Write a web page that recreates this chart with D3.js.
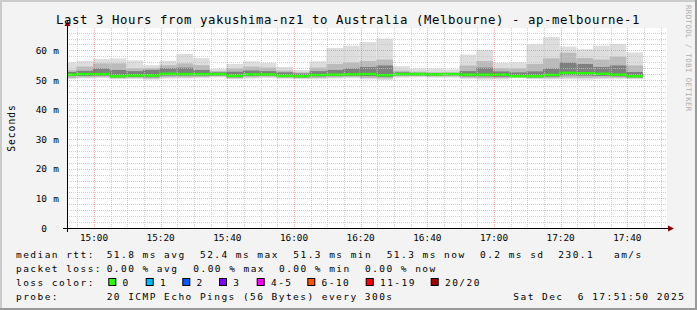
<!DOCTYPE html>
<html lang="en">
<head>
<meta charset="UTF-8"/>
<title>SmokePing - ap-melbourne-1</title>
<script src="https://d3js.org/d3.v7.min.js"></script>
<style>
  body { margin: 0; background: #f3f3f3; }
  svg text { font-family: "DejaVu Sans Mono", monospace; fill: #000; white-space: pre; }
</style>
</head>
<body>
<script>
// 5 minute bins, first one starts 14:50
var binCount = 35;
// smoke bands (ms)
var lo  = [50.3, 50.6, 50.7, 50.3, 50.4, 50.1, 50.5, 50.5, 50.6, 50.9, 50.3, 50.5, 50.7, 50.4, 50.3, 50.3, 50.5, 50.6, 50.2, 50.0, 50.8, 50.9, 50.8, 50.8, 50.4, 50.1, 50.2, 50.6, 50.3, 50.2, 50.2, 50.1, 50.3, 50.4, 50.3];
var q1  = [50.7, 50.9, 51.0, 50.6, 50.7, 50.5, 50.9, 50.9, 51.0, 51.2, 50.6, 50.9, 51.1, 50.7, 50.6, 50.7, 50.9, 51.0, 50.7, 50.5, 51.2, 51.3, 51.2, 51.2, 50.8, 50.6, 50.6, 50.9, 50.6, 50.6, 50.8, 50.7, 50.8, 50.8, 50.6];
var c1  = [51.3, 51.4, 51.5, 50.9, 51.0, 50.9, 51.5, 51.5, 51.5, 51.6, 50.9, 51.4, 51.5, 51.0, 50.9, 51.2, 51.3, 51.4, 51.3, 51.0, 51.6, 51.6, 51.5, 51.6, 51.2, 51.2, 51.1, 51.0, 50.9, 51.1, 51.6, 51.5, 51.4, 51.2, 50.9];
var med = [51.8, 52.0, 52.0, 51.3, 51.5, 51.5, 52.1, 52.0, 52.0, 52.0, 51.4, 51.9, 51.9, 51.4, 51.3, 51.7, 51.8, 51.9, 52.0, 51.6, 52.0, 52.0, 51.9, 52.0, 51.8, 51.8, 51.8, 51.3, 51.3, 51.7, 52.4, 52.3, 52.1, 51.8, 51.3];
var c2  = [52.7, 53.1, 53.9, 53.4, 53.0, 53.4, 54.0, 54.2, 53.4, 52.6, 52.8, 53.2, 53.0, 52.6, 52.2, 53.0, 53.4, 53.9, 54.4, 54.9, 52.6, 52.4, 52.3, 52.3, 53.0, 54.2, 52.9, 52.6, 52.9, 53.9, 55.9, 55.4, 54.4, 54.9, 52.7];
var q3  = [53.3, 54.5, 55.6, 55.6, 53.9, 54.0, 55.0, 55.6, 55.0, 53.0, 53.9, 54.5, 54.2, 53.2, 52.6, 54.2, 55.4, 55.9, 56.4, 56.9, 53.2, 52.8, 52.6, 52.6, 54.9, 56.4, 54.0, 53.9, 55.4, 57.3, 59.2, 57.4, 56.9, 57.9, 54.9];
var hi  = [55.9, 56.4, 57.1, 57.3, 56.6, 55.0, 56.5, 58.8, 57.4, 53.7, 55.4, 56.3, 55.8, 54.4, 53.4, 56.3, 60.8, 61.6, 62.8, 64.0, 54.7, 53.9, 53.9, 53.6, 58.6, 60.2, 55.8, 56.0, 62.1, 64.5, 61.3, 60.4, 61.6, 62.2, 59.3];

var yTicks = [0, 10, 20, 30, 40, 50, 60];
var lossLabels = ["0", "1", "2", "3", "4-5", "6-10", "11-19", "20/20"];
var lossColors = ["#26ff00", "#00b8ff", "#0059ff", "#7e00ff", "#ff00ff", "#ff5500", "#ff0000", "#a10000"];

var W = 697, H = 310;
var pLeft = 67, pRight = 667, pTop = 28, pBottom = 228;

var svg = d3.select("body").append("svg")
    .attr("width", W).attr("height", H);

// frame
svg.append("rect").attr("width", W).attr("height", H).attr("fill", "#f3f3f3");
svg.append("path").attr("d", "M1,310 V1 H697").attr("fill", "none")
    .attr("stroke", "#cbcbcb").attr("stroke-width", 2);
svg.append("path").attr("d", "M0,309 H696 V0").attr("fill", "none")
    .attr("stroke", "#9a9a9a").attr("stroke-width", 2);

svg.append("rect").attr("x", pLeft).attr("y", pTop)
    .attr("width", pRight - pLeft).attr("height", pBottom - pTop).attr("fill", "#fff");

var t0 = new Date(2025, 11, 6, 14, 51, 54);
var t1 = new Date(2025, 11, 6, 17, 51, 54);
var x = d3.scaleTime().domain([t0, t1]).range([pLeft, pRight]);
var y = d3.scaleLinear().domain([0, 67.57]).range([pBottom, pTop]);

var binStart = new Date(2025, 11, 6, 14, 50, 0);
var bins = d3.range(binCount).map(function(i) {
    return {
        a: d3.timeMinute.offset(binStart, 5 * i),
        b: d3.timeMinute.offset(binStart, 5 * i + 5),
        lo: lo[i], q1: q1[i], c1: c1[i], med: med[i], c2: c2[i], q3: q3[i], hi: hi[i]
    };
});

svg.append("clipPath").attr("id", "plot").append("rect")
    .attr("x", pLeft).attr("y", pTop).attr("width", pRight - pLeft).attr("height", pBottom - pTop);
var g = svg.append("g").attr("clip-path", "url(#plot)");

function band(k0, k1, col) {
    g.append("g").selectAll("rect").data(bins).enter().append("rect")
        .attr("x", function(d) { return x(d.a) - 1; })
        .attr("width", function(d) { return x(d.b) - x(d.a); })
        .attr("y", function(d) { return y(d[k1]); })
        .attr("height", function(d) { return y(d[k0]) - y(d[k1]); })
        .attr("fill", col);
}
band("lo", "hi", "#dddddd");
band("q1", "q3", "#bababa");
band("c1", "c2", "#7f7f7f");

// median, coloured by loss (all 0 here)
g.append("g").selectAll("rect").data(bins).enter().append("rect")
    .attr("x", function(d) { return x(d.a) - 1; })
    .attr("width", function(d) { return x(d.b) - x(d.a); })
    .attr("y", function(d) { return y(d.med) - 1.2; })
    .attr("height", 2.4)
    .attr("fill", lossColors[0]);

// grid (drawn over the smoke, like rrdtool)
var grid = svg.append("g").attr("fill", "none").attr("stroke-width", 1).attr("stroke-dasharray", "1,1");
var minorT = d3.timeMinute.every(5).range(t0, t1);
var gcol = "rgba(196,196,196,0.8)", mcol = "rgba(255,40,40,0.35)";
grid.selectAll(".vx").data(minorT.filter(function(t) { return t.getMinutes() % 20 != 0; }))
    .enter().append("line")
    .attr("x1", function(d) { return Math.round(x(d)) + 0.5; })
    .attr("x2", function(d) { return Math.round(x(d)) + 0.5; })
    .attr("y1", pTop).attr("y2", pBottom).attr("stroke", gcol);
grid.selectAll(".hy").data(d3.range(2, 68, 2).filter(function(v) { return v % 10 != 0; }))
    .enter().append("line")
    .attr("y1", function(d) { return Math.round(y(d)) + 0.5; })
    .attr("y2", function(d) { return Math.round(y(d)) + 0.5; })
    .attr("x1", pLeft).attr("x2", pRight).attr("stroke", gcol);
var majorT = minorT.filter(function(t) { return t.getMinutes() % 20 == 0; });
grid.selectAll(".mx").data(majorT).enter().append("line")
    .attr("x1", function(d) { return Math.round(x(d)) + 0.5; })
    .attr("x2", function(d) { return Math.round(x(d)) + 0.5; })
    .attr("y1", pTop).attr("y2", pBottom).attr("stroke", mcol);
grid.selectAll(".my").data(yTicks.slice(1)).enter().append("line")
    .attr("y1", function(d) { return Math.round(y(d)) + 0.5; })
    .attr("y2", function(d) { return Math.round(y(d)) + 0.5; })
    .attr("x1", pLeft).attr("x2", pRight).attr("stroke", mcol);

// axes
svg.append("line").attr("x1", 63).attr("x2", 670).attr("y1", pBottom + 0.5).attr("y2", pBottom + 0.5)
    .attr("stroke", "#000");
svg.append("line").attr("x1", pLeft + 0.5).attr("x2", pLeft + 0.5).attr("y1", 232).attr("y2", 25)
    .attr("stroke", "#000");
svg.append("path").attr("d", "M668,225.5 L674,228.5 L668,231.5 Z").attr("fill", "#8b0000");
svg.append("path").attr("d", "M64.5,26 L67.5,20.5 L70.5,26 Z").attr("fill", "#8b0000");

// tick labels
svg.append("g").selectAll("text").data(majorT).enter().append("text")
    .attr("x", function(d) { return x(d); }).attr("y", 240.5)
    .attr("text-anchor", "middle").attr("font-size", "9.4px")
    .text(d3.timeFormat("%H:%M"));
var yl = svg.append("g").attr("font-size", "9.4px");
yl.selectAll(".n").data(yTicks).enter().append("text")
    .attr("x", 47).attr("y", function(d) { return y(d) + 3.5; })
    .attr("text-anchor", "end").text(function(d) { return d; });
yl.selectAll(".u").data(yTicks.slice(1)).enter().append("text")
    .attr("x", 53.3).attr("y", function(d) { return y(d) + 3.5; })
    .text("m");

svg.append("text").attr("transform", "translate(14.5,128) rotate(-90)")
    .attr("text-anchor", "middle").attr("font-size", "9.6px").attr("letter-spacing", "1px")
    .text("Seconds");

svg.append("text").attr("x", 348).attr("y", 23.5)
    .attr("text-anchor", "middle").attr("font-size", "12.3px").attr("letter-spacing", "0.6px")
    .text("Last 3 Hours from yakushima-nz1 to Australia (Melbourne) - ap-melbourne-1");

svg.append("text").attr("transform", "translate(686,5) rotate(90)")
    .attr("font-size", "7.4px").attr("letter-spacing", "0.4px").style("fill", "#b0b0b0")
    .text("RRDTOOL / TOBI OETIKER");

// legend
var leg = svg.append("g").attr("font-size", "9.5px").attr("letter-spacing", "1.45px");
function put(tx, ty, s) { leg.append("text").attr("x", tx).attr("y", ty).text(s); }
put(16, 257.5, "median rtt:");
put(106.7, 257.5, "51.8 ms avg");
put(200, 257.5, "52.4 ms max");
put(293.3, 257.5, "51.3 ms min");
put(386.7, 257.5, "51.3 ms now");
put(480, 257.5, "0.2 ms sd");
put(558.3, 257.5, "230.1");
put(614, 257.5, "am/s");
put(16, 271.5, "packet loss:");
put(106.7, 271.5, "0.00 % avg");
put(193.3, 271.5, "0.00 % max");
put(279, 271.5, "0.00 % min");
put(365, 271.5, "0.00 % now");
put(16, 285.5, "loss color:");
var boxX = [108.3, 145.7, 182.3, 219, 256.7, 307.3, 365.7, 430.7];
lossLabels.forEach(function(l, i) {
    leg.append("rect").attr("x", boxX[i] + 0.5).attr("y", 278.5).attr("width", 7).attr("height", 7)
        .attr("fill", lossColors[i]).attr("stroke", "#000").attr("stroke-width", 1);
    put(boxX[i] + 14.3, 285.5, l);
});
put(16, 299.5, "probe:");
put(106.7, 299.5, "20 ICMP Echo Pings (56 Bytes) every 300s");
put(513.3, 299.5, "Sat Dec  6 17:51:50 2025");
</script>
</body>
</html>
